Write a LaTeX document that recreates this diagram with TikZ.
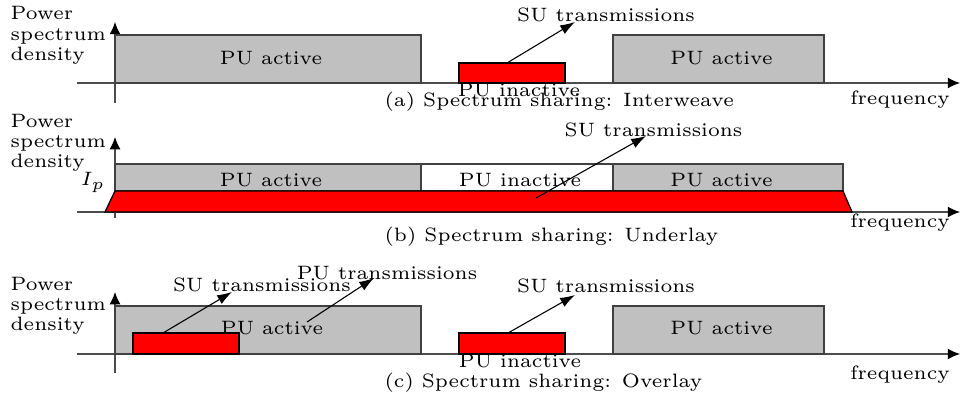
\documentclass[tikz,border=0pt]{standalone}
\usetikzlibrary{arrows.meta}
\definecolor{pugray}{RGB}{192,192,192}
\begin{document}
\begin{tikzpicture}[x=0.31pt,y=-0.31pt,
  every node/.style={font=\fontsize{6}{7}\selectfont, inner sep=0pt},
  axis/.style={draw=black!70, line width=0.38pt, -{Latex[length=3.8pt,width=3.4pt,color=black]}},
  pubox/.style={fill=pugray, draw=black!75, line width=0.4pt},
  idlebox/.style={fill=white, draw=black!75, line width=0.4pt},
  subox/.style={fill=red, draw=black, line width=0.4pt},
  txarrow/.style={draw=black, line width=0.34pt, -{Latex[length=4.6pt,width=3.1pt]}},
  lbl/.style={anchor=base},
  ylbl/.style={anchor=base west},
  captionlbl/.style={anchor=base west}]
\useasboundingbox (0,0) rectangle (961,394);

% ---------- (a) Interweave ----------
\draw[axis] (77,83) -- (960,83);
\draw[axis] (115,103) -- (115,22);
\draw[pubox] (115,35) rectangle (421,83);
\draw[pubox] (613,35) rectangle (824,83);
\draw[subox] (459,63) rectangle (565,83);
\node[ylbl] (aPow) at (10,20) {Power};
\node[ylbl] (aSpec) at (10,40.5) {spectrum};
\node[ylbl] (aDen) at (10,61) {density};
\node[lbl] (aAct1) at (271,65) {PU active};
\node[lbl] (aAct2) at (721.5,65) {PU active};
\node[lbl] (aIdle) at (519,97) {PU inactive};
\node[lbl] (aSU) at (606,22) {SU transmissions};
\node[lbl] (aFreq) at (900,105) {frequency};
\node[captionlbl] (aCap) at (384,107) {(a) Spectrum sharing: Interweave};
\coordinate (aSUfrom) at (507,63);
\coordinate (aSUto) at (575,22);
\draw[txarrow] (aSUfrom) -- (aSUto);

% ---------- (b) Underlay ----------
\draw[axis] (77,212) -- (960,212);
\draw[axis] (115,218) -- (115,137);
\draw[pubox] (115,164) rectangle (421,191);
\draw[idlebox] (421,164) rectangle (613,191);
\draw[pubox] (613,164) rectangle (843,191);
\draw[subox] (105,212) -- (115,191) -- (843,191) -- (852,212) -- cycle;
\node[ylbl] (bPow) at (10,128) {Power};
\node[ylbl] (bSpec) at (10,148) {spectrum};
\node[ylbl] (bDen) at (10,168) {density};
\node[lbl] (bIp) at (93,186) {$I_p$};
\node[lbl] (bAct1) at (271,187) {PU active};
\node[lbl] (bIdle) at (520,187) {PU inactive};
\node[lbl] (bAct2) at (721.5,187) {PU active};
\node[lbl] (bSU) at (653.5,137) {SU transmissions};
\node[lbl] (bFreq) at (900,228) {frequency};
\node[captionlbl] (bCap) at (384,242) {(b) Spectrum sharing: Underlay};
\coordinate (bSUfrom) at (536,198);
\coordinate (bSUto) at (646,136);
\draw[txarrow] (bSUfrom) -- (bSUto);

% ---------- (c) Overlay ----------
\draw[axis] (77,354) -- (960,354);
\draw[axis] (115,373) -- (115,292);
\draw[pubox] (115,306) rectangle (421,354);
\draw[pubox] (613,306) rectangle (824,354);
\draw[subox] (133,333) rectangle (239,354);
\draw[subox] (459,333) rectangle (565,354);
\node[ylbl] (cPow) at (10,291) {Power};
\node[ylbl] (cSpec) at (10,311) {spectrum};
\node[ylbl] (cDen) at (10,331) {density};
\node[lbl] (cAct1) at (272,334) {PU active};
\node[lbl] (cAct2) at (721.5,334) {PU active};
\node[lbl] (cIdle) at (520,368) {PU inactive};
\node[lbl] (cSU1) at (262,292) {SU transmissions};
\node[lbl] (cPU) at (387,280) {PU transmissions};
\node[lbl] (cSU2) at (606,293) {SU transmissions};
\node[lbl] (cFreq) at (900,379) {frequency};
\node[captionlbl] (cCap) at (384,387) {(c) Spectrum sharing: Overlay};
\coordinate (cSU1from) at (163,333);
\coordinate (cSU1to) at (232,292);
\coordinate (cPUfrom) at (307,322);
\coordinate (cPUto) at (374,278);
\coordinate (cSU2from) at (508,333);
\coordinate (cSU2to) at (575,295);
\draw[txarrow] (cSU1from) -- (cSU1to);
\draw[txarrow] (cPUfrom) -- (cPUto);
\draw[txarrow] (cSU2from) -- (cSU2to);
\end{tikzpicture}
\end{document}
